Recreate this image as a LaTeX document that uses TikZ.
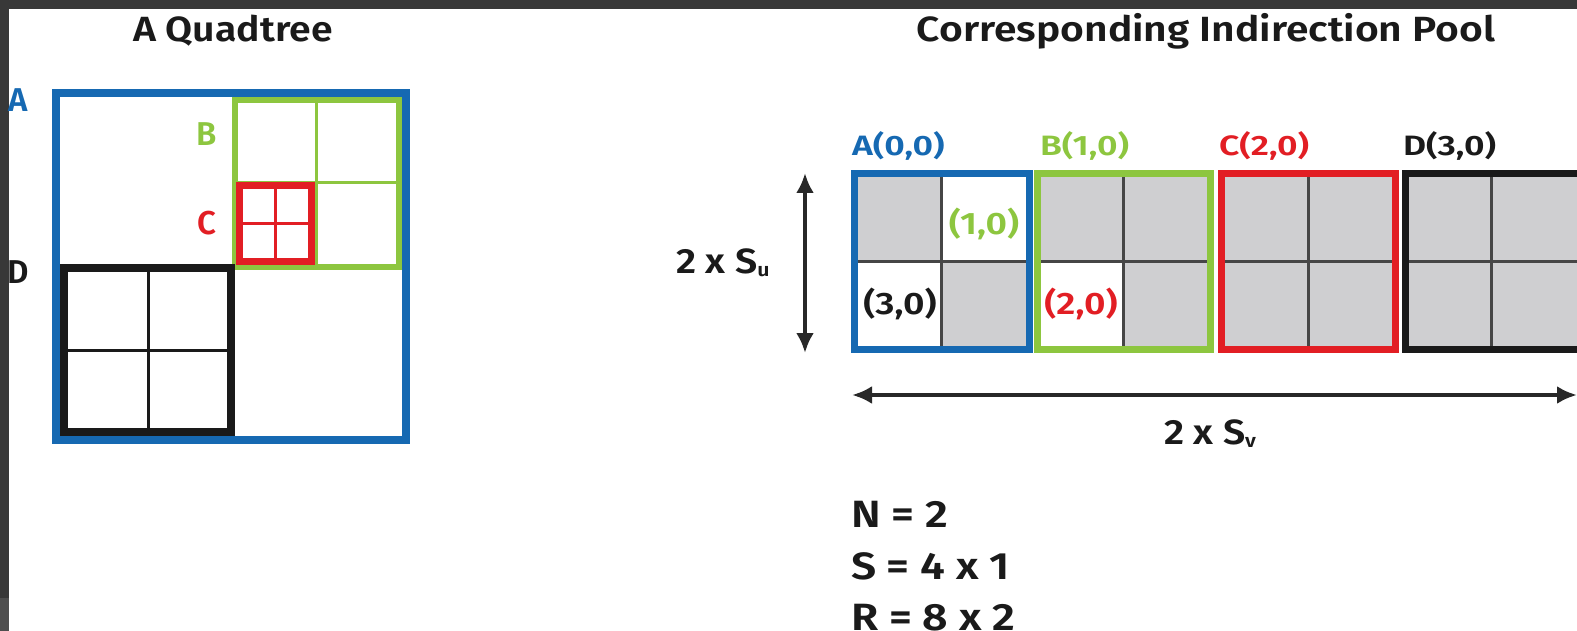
\documentclass[tikz,border=0pt]{standalone}
\usepackage{fontspec}
\setmainfont{Fira Sans}[UprightFont=* SemiBold, BoldFont=* Bold]
\usetikzlibrary{arrows.meta}
\definecolor{qblue}{RGB}{22,105,178}
\definecolor{qgreen}{RGB}{141,198,63}
\definecolor{qred}{RGB}{226,30,36}
\definecolor{qblack}{RGB}{26,26,26}
\definecolor{qgray}{RGB}{207,207,209}
\definecolor{qline}{RGB}{70,70,70}
\definecolor{darkbg}{RGB}{56,56,56}
\definecolor{midbg}{RGB}{78,78,78}
\definecolor{arrowc}{RGB}{40,40,40}
\newcommand{\fs}[1]{\fontsize{#1}{#1}\selectfont}
\newcommand{\subs}[1]{\raisebox{-3pt}{\fs{19}#1}}
\begin{document}
\begin{tikzpicture}[x=1pt,y=-1pt,
  every node/.style={inner sep=0pt, outer sep=0pt},
  title/.style={font=\fs{35}, text=qblack, xscale=1.12},
  biglbl/.style={font=\fs{33}},
  poollbl/.style={font=\fs{28}, anchor=west, xscale=1.27},
  celllbl/.style={font=\fs{31}, xscale=1.2},
  thinline/.style={line width=3pt, draw=qline},
  dimarrow/.style={line width=4pt, draw=arrowc, {Latex[length=20pt,width=18pt]}-{Latex[length=20pt,width=18pt]}},
  dimlbl/.style={font=\fs{35}, text=qblack, xscale=1.12},
  eqlbl/.style={font=\fs{38}, text=qblack, anchor=west, xscale=1.17}]
\useasboundingbox (0,0) rectangle (1577,631);
\fill[white] (0,0) rectangle (1577,631);
\fill[darkbg] (0,0) rectangle (1577,9);
\fill[darkbg] (0,0) rectangle (9,631);
\fill[midbg] (0,598) rectangle (9,631);

% ---------------- Quadtree ----------------
\node[title] (t1) at (233,31) {A Quadtree};
\draw[qblue, line width=8pt] (56,93) rectangle (406,440);
% green node B
\draw[qgreen, line width=3pt] (316,100.5) -- (316,266.5) (235,183) -- (398.5,183);
\draw[qgreen, line width=6pt] (235,100.5) rectangle (398.5,266.5);
% red node C
\draw[qred, line width=3pt] (275,186) -- (275,261) (239,223.5) -- (311,223.5);
\draw[qred, line width=7pt] (239,186) rectangle (311,261);
% black node D
\draw[qblack, line width=3pt] (148,268) -- (148,432) (64,350) -- (231,350);
\draw[qblack, line width=8pt] (64,268) rectangle (231,432);
\node[biglbl, text=qblue] (la) at (18,100) {A};
\node[biglbl, text=qgreen] (lb) at (207,134) {B};
\node[biglbl, text=qred] (lc) at (207,223) {C};
\node[biglbl, text=qblack] (ld) at (18,272) {D};

% ---------------- Indirection pool ----------------
\node[title, xscale=1.04] (t2) at (1206,31) {Corresponding Indirection Pool};
\foreach \L/\R in {854/1029, 1037/1210, 1221/1395, 1405/1580} {
  \fill[qgray] (\L,174) rectangle (\R,349);
}
\fill[white] (941,174) rectangle (1029,261.5);
\fill[white] (854,261.5) rectangle (941,349);
\fill[white] (1037,261.5) rectangle (1123,349);
\foreach \L/\M/\R in {854/941/1029, 1037/1123/1210, 1221/1308/1395, 1405/1491/1580} {
  \draw[thinline] (\M,174) -- (\M,349) (\L,261.5) -- (\R,261.5);
}
\draw[qblue, line width=7pt] (854,174) rectangle (1029,349);
\draw[qgreen, line width=7pt] (1037,174) rectangle (1210,349);
\draw[qred, line width=7pt] (1221,174) rectangle (1395,349);
\draw[qblack, line width=7pt] (1405,174) rectangle (1582,349);

\node[poollbl, text=qblue] (pa) at (852,146) {A(0,0)};
\node[poollbl, text=qgreen] (pb) at (1040,146) {B(1,0)};
\node[poollbl, text=qred] (pc) at (1219,146) {C(2,0)};
\node[poollbl, text=qblack] (pd) at (1403,146) {D(3,0)};

\node[celllbl, text=qgreen] (c10) at (984,224) {(1,0)};
\node[celllbl, text=qblack] (c30) at (900,304) {(3,0)};
\node[celllbl, text=qred] (c20) at (1081,304) {(2,0)};

% dimension arrows
\coordinate (vt) at (805,173);
\coordinate (vb) at (805,353);
\draw[dimarrow] (vt) -- (vb);
\node[dimlbl] (su) at (723,263) {2 x S\subs{u}};
\coordinate (hl) at (852,395);
\coordinate (hr) at (1577,395);
\draw[dimarrow] (hl) -- (hr);
\node[dimlbl] (sv) at (1210,434) {2 x S\subs{v}};

\node[eqlbl] (eqn) at (851,514) {N = 2};
\node[eqlbl] (eqs) at (851,566) {S = 4 x 1};
\node[eqlbl] (eqr) at (851,618) {R = 8 x 2};
\end{tikzpicture}
\end{document}
